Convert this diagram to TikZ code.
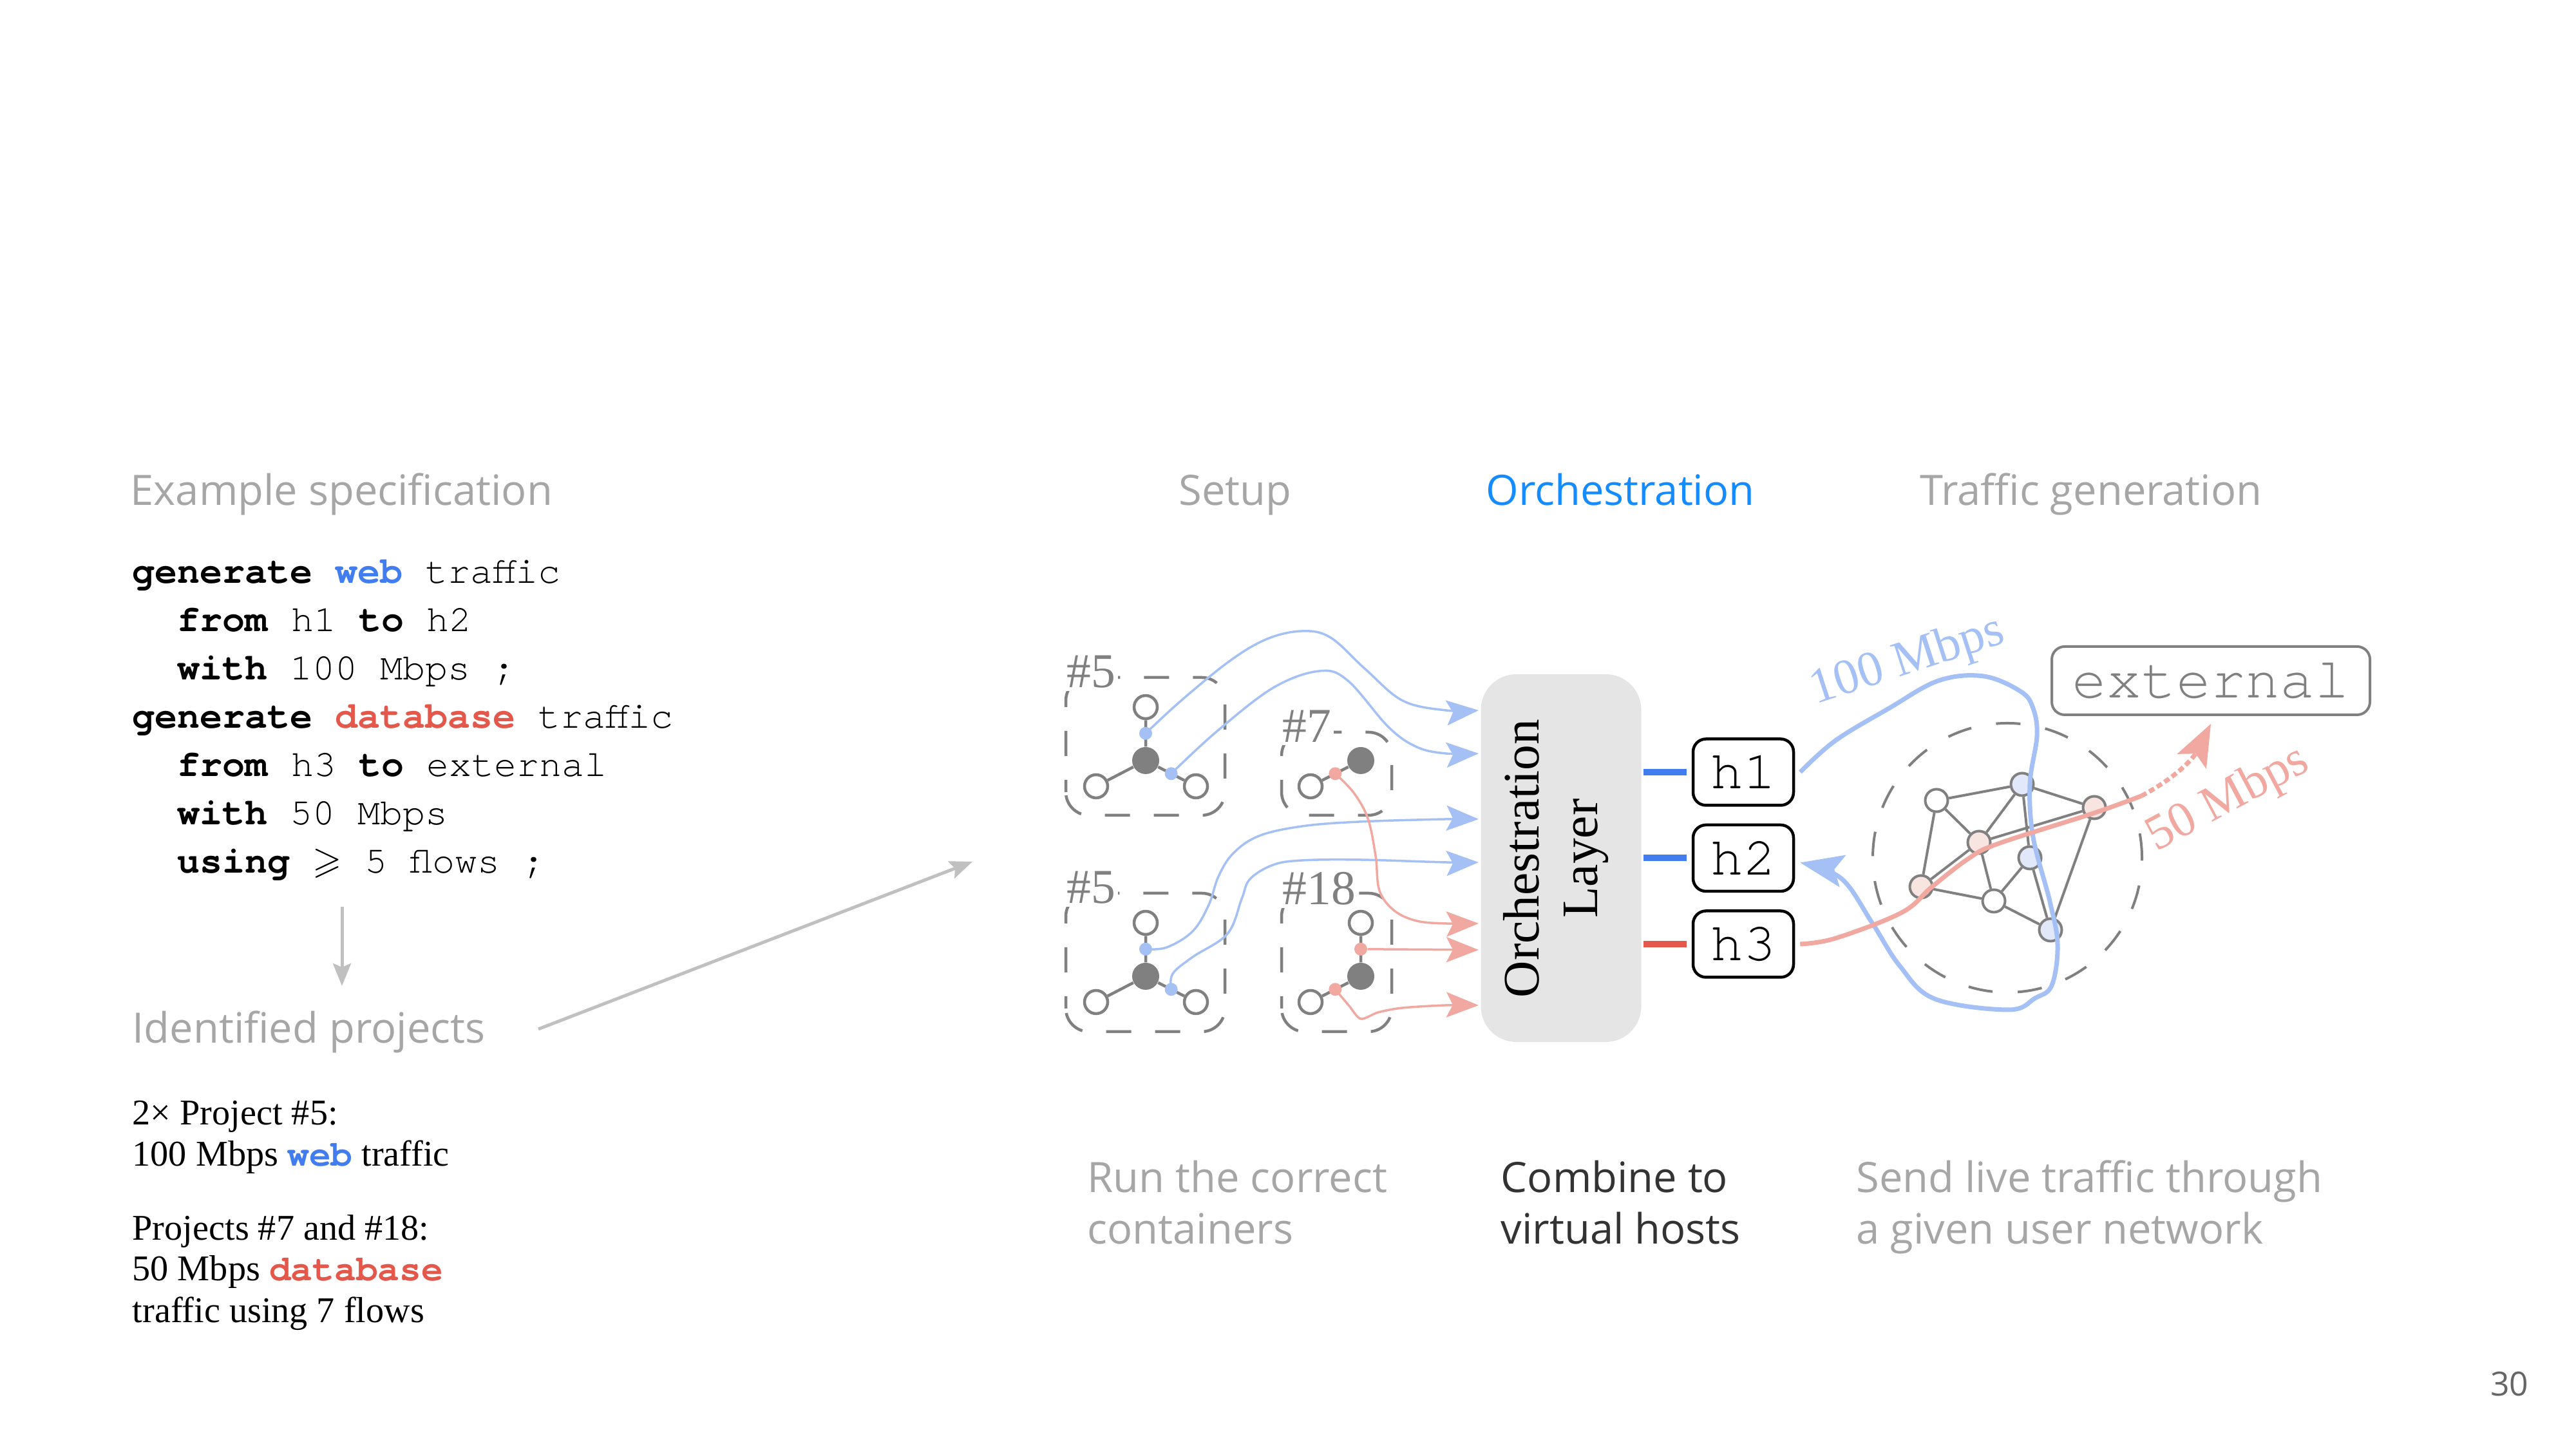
\documentclass[tikz,border=0pt]{standalone}
\usepackage{fontspec}
\usepackage{amssymb}
\setmainfont{Liberation Serif}
\setmonofont{texgyrecursor}[Extension=.otf, UprightFont=*-regular, BoldFont=*-bold]
\newfontfamily\slidefont{Open Sans}
\usetikzlibrary{arrows.meta,positioning}

\definecolor{headgray}{RGB}{166,166,166}
\definecolor{pagegray}{RGB}{102,102,102}
\definecolor{orchblue}{RGB}{20,140,255}
\definecolor{webblue}{RGB}{66,125,240}
\definecolor{dbred}{RGB}{228,87,75}
\definecolor{flowblue}{RGB}{164,192,245}
\definecolor{flowred}{RGB}{240,168,160}
\definecolor{nodegray}{RGB}{128,128,128}
\definecolor{orchgray}{RGB}{229,229,229}
\definecolor{netblue}{RGB}{225,232,250}
\definecolor{netpink}{RGB}{248,228,225}
\definecolor{arrowgray}{RGB}{192,192,192}
\definecolor{captiondark}{RGB}{51,51,51}

\tikzset{
  slidehead/.style={font=\slidefont\fontsize{18.5}{22}\selectfont, text=headgray, inner sep=0, anchor=base west},
  stepcaption/.style={font=\slidefont\fontsize{18.5}{22}\selectfont, text=headgray, inner sep=0, anchor=base west},
  specline/.style={font=\ttfamily\fontsize{16.6}{20}\selectfont, inner sep=0, anchor=base west},
  projtext/.style={font=\fontsize{16}{18}\selectfont, inner sep=0, anchor=base west},
  projbox/.style={draw=nodegray, line width=0.45mm, dash pattern=on 3.9mm off 3.7mm, dash phase=2mm, rounded corners=3.6mm},
  projtag/.style={font=\fontsize{21.5}{24}\selectfont, text=nodegray, fill=white, inner sep=0.4mm, anchor=base west},
  hub/.style={circle, fill=nodegray, minimum size=4.2mm, inner sep=0},
  leaf/.style={circle, draw=nodegray, line width=0.45mm, fill=white, minimum size=3.6mm, inner sep=0},
  spoke/.style={draw=nodegray, line width=0.45mm},
  webport/.style={circle, fill=flowblue, minimum size=2mm, inner sep=0},
  dbport/.style={circle, fill=flowred, minimum size=2mm, inner sep=0},
  webflow/.style={draw=flowblue, line width=0.35mm, -{Stealth[length=5mm, width=3.9mm, inset=1mm]}},
  dbflow/.style={draw=flowred, line width=0.35mm, -{Stealth[length=5mm, width=3.9mm, inset=1mm]}},
  orchbox/.style={fill=orchgray, rounded corners=5.5mm, minimum width=2.49cm, minimum height=5.71cm, inner sep=0},
  orchtext/.style={font=\fontsize{22.6}{26}\selectfont, rotate=90, align=center, inner sep=0},
  host/.style={draw=black, line width=0.45mm, rounded corners=2mm, minimum width=1.56cm, minimum height=1.03cm, inner sep=0, font=\ttfamily\fontsize{24}{24}\selectfont},
  hostline/.style={line width=1mm},
  extbox/.style={draw=nodegray, line width=0.4mm, rounded corners=2mm, minimum width=4.94cm, minimum height=1.06cm, inner sep=0, text=nodegray, font=\ttfamily\fontsize{25.5}{26}\selectfont},
  netnode/.style={circle, draw=nodegray, line width=0.4mm, fill=white, minimum size=3.5mm, inner sep=0},
  netedge/.style={draw=nodegray, line width=0.4mm},
  netrim/.style={draw=nodegray, line width=0.4mm, dash pattern=on 3.8mm off 3.9mm},
  bigwebflow/.style={draw=flowblue, line width=0.7mm, -{Stealth[length=6.7mm, width=5mm, inset=1.3mm]}},
  bigdbflow/.style={draw=flowred, line width=0.7mm},
  ratetag/.style={font=\fontsize{22}{24}\selectfont, inner sep=0},
  greyarrow/.style={draw=arrowgray, line width=0.5mm, -{Stealth[length=3.5mm, width=2.8mm, inset=0.6mm]}},
}

\begin{document}
\begin{tikzpicture}
  \useasboundingbox (0,0) rectangle (40,22.5);

  % specification
  \node[slidehead] (spec) at (2.02,14.65) {Example specification};
  \node[specline] (spec1) at (2.05,13.44) {\textbf{generate} \textbf{\color{webblue}web} traffic};
  \node[specline] (spec2) at (2.75,12.69) {\textbf{from} h1 \textbf{to} h2};
  \node[specline] (spec3) at (2.75,11.94) {\textbf{with} 100 Mbps ;};
  \node[specline] (spec4) at (2.05,11.19) {\textbf{generate} \textbf{\color{dbred}database} traffic};
  \node[specline] (spec5) at (2.75,10.44) {\textbf{from} h3 \textbf{to} external};
  \node[specline] (spec6) at (2.75,9.69) {\textbf{with} 50 Mbps};
  \node[specline] (spec7) at (2.75,8.94) {\textbf{using} $\geqslant$ 5 flows ;};

  \coordinate (down1) at (5.31,8.42);
  \coordinate (down2) at (5.31,7.19);
  \draw[greyarrow] (down1) -- (down2);

  % identified projects
  \node[slidehead] (ident) at (2.05,6.30) {Identified projects};
  \node[projtext] (proj1) at (2.05,5.03) {2× Project \#5:};
  \node[projtext] (proj2) at (2.05,4.39) {100 Mbps \texttt{\textbf{\color{webblue}web}} traffic};
  \node[projtext] (proj3) at (2.05,3.24) {Projects \#7 and \#18:};
  \node[projtext] (proj4) at (2.05,2.61) {50 Mbps \texttt{\textbf{\color{dbred}database}}};
  \node[projtext] (proj5) at (2.05,1.96) {traffic using 7 flows};

  \coordinate (diag1) at (8.36,6.52);
  \coordinate (diag2) at (15.10,9.12);
  \draw[greyarrow] (diag1) -- (diag2);

  % step headings
  \node[slidehead, anchor=base] (setup) at (19.18,14.65) {Setup};
  \node[slidehead, anchor=base, text=orchblue] (orchhead) at (25.16,14.65) {Orchestration};
  \node[slidehead, anchor=base] (trafhead) at (32.47,14.65) {Traffic generation};

  % containers
  \draw[projbox] (16.55,9.84) rectangle (19.02,11.98);
  \draw[projbox] (19.90,9.84) rectangle (21.61,11.13);
  \draw[projbox] (16.55,6.48) rectangle (19.02,8.63);
  \draw[projbox] (19.90,6.48) rectangle (21.61,8.63);
  \node[projtag] (tagA) at (16.52,11.82) {\#5};
  \node[projtag] (tagC) at (19.87,10.97) {\#7};
  \node[projtag] (tagB) at (16.52,8.47) {\#5};
  \node[projtag] (tagD) at (19.87,8.45) {\#18};

  % project #5, first copy
  \node[hub] (hubA) at (17.79,10.69) {};
  \node[leaf] (topA) [above=4.1mm of hubA] {};
  \node[leaf] (leftA) at ([shift={(-7.7mm,-4mm)}]hubA) {};
  \node[leaf] (rightA) at ([shift={(7.8mm,-4mm)}]hubA) {};
  \draw[spoke] (hubA) -- (topA) (hubA) -- (leftA) (hubA) -- (rightA);
  \path (hubA) -- (topA) node[webport, midway] (pA1) {};
  \path (hubA) -- (rightA) node[webport, midway] (pA2) {};

  % project #5, second copy
  \node[hub] (hubB) at (17.79,7.34) {};
  \node[leaf] (topB) [above=4.1mm of hubB] {};
  \node[leaf] (leftB) at ([shift={(-7.7mm,-4mm)}]hubB) {};
  \node[leaf] (rightB) at ([shift={(7.8mm,-4mm)}]hubB) {};
  \draw[spoke] (hubB) -- (topB) (hubB) -- (leftB) (hubB) -- (rightB);
  \path (hubB) -- (topB) node[webport, midway] (pB1) {};
  \path (hubB) -- (rightB) node[webport, midway] (pB2) {};

  % project #7
  \node[hub] (hubC) at (21.13,10.69) {};
  \node[leaf] (leftC) at ([shift={(-7.8mm,-4mm)}]hubC) {};
  \draw[spoke] (hubC) -- (leftC);
  \path (hubC) -- (leftC) node[dbport, midway] (pC1) {};

  % project #18
  \node[hub] (hubD) at (21.13,7.34) {};
  \node[leaf] (topD) [above=4.1mm of hubD] {};
  \node[leaf] (leftD) at ([shift={(-7.8mm,-4mm)}]hubD) {};
  \draw[spoke] (hubD) -- (topD) (hubD) -- (leftD);
  \path (hubD) -- (topD) node[dbport, midway] (pD1) {};
  \path (hubD) -- (leftD) node[dbport, midway] (pD2) {};

  % orchestration layer
  \node[orchbox] (orch) at (24.24,9.175) {};
  \node[orchtext] (orchtxt) at (24.16,9.17) {Orchestration\\Layer};

  \coordinate (in1) at (22.96,11.47);
  \coordinate (in2) at (22.96,10.80);
  \coordinate (in3) at (22.96,9.78);
  \coordinate (in4) at (22.96,9.11);
  \coordinate (in5) at (22.96,8.16);
  \coordinate (in6) at (22.96,7.75);
  \coordinate (in7) at (22.96,6.89);

  \draw[webflow] plot[smooth, tension=0.6] coordinates {(pA1) (18.34,11.62) (19.10,12.24) (19.68,12.58) (20.22,12.70) (20.66,12.60) (21.20,12.11) (21.78,11.62) (22.45,11.47) (in1)};
  \draw[webflow] plot[smooth, tension=0.6] coordinates {(pA2) (18.88,11.13) (19.77,11.82) (20.49,12.08) (20.93,11.93) (21.56,11.21) (22.00,10.90) (22.45,10.80) (in2)};
  \draw[webflow] plot[smooth, tension=0.6] coordinates {(pB1) (18.12,7.79) (18.52,8.04) (18.77,8.45) (18.92,8.89) (19.15,9.25) (19.55,9.52) (20.22,9.67) (21.11,9.74) (22.45,9.78) (in3)};
  \draw[webflow] plot[smooth, tension=0.6] coordinates {(pB2) (18.21,7.38) (18.52,7.64) (19.06,8.00) (19.28,8.54) (19.41,8.85) (19.77,9.07) (20.22,9.14) (21.11,9.15) (22.45,9.11) (in4)};
  \draw[dbflow] plot[smooth, tension=0.6] coordinates {(pC1) (21.02,10.19) (21.24,9.79) (21.36,9.21) (21.42,8.67) (21.65,8.36) (22.00,8.20) (22.45,8.16) (in5)};
  \draw[dbflow] (pD1) -- (in6);
  \draw[dbflow] plot[smooth, tension=0.5] coordinates {(pD2) (20.95,6.88) (21.13,6.68) (21.40,6.78) (21.78,6.85) (22.45,6.89) (in7)};

  % virtual hosts
  \node[host] (h1) at (27.07,10.51) {h1};
  \node[host] (h2) [below=2.6mm of h1] {h2};
  \node[host] (h3) [below=2.6mm of h2] {h3};
  \draw[hostline, webblue] ([xshift=0.3mm]orch.east |- h1) -- ([xshift=-0.8mm]h1.west);
  \draw[hostline, webblue] ([xshift=0.3mm]orch.east |- h2) -- ([xshift=-0.8mm]h2.west);
  \draw[hostline, dbred] ([xshift=0.3mm]orch.east |- h3) -- ([xshift=-0.8mm]h3.west);

  % user network
  \node[extbox] (ext) at (34.33,11.93) {external};
  \draw[netrim] (31.17,9.18) circle (2.09);

  \node[netnode] (n1) at (30.07,10.07) {};
  \node[netnode, fill=netblue] (n2) at (31.40,10.32) {};
  \node[netnode, fill=netpink] (n3) at (32.52,9.96) {};
  \node[netnode, fill=netpink] (n4) at (30.73,9.42) {};
  \node[netnode, fill=netblue] (n5) at (31.52,9.18) {};
  \node[netnode, fill=netpink] (n6) at (29.83,8.73) {};
  \node[netnode] (n7) at (30.96,8.51) {};
  \node[netnode, fill=netblue] (n8) at (31.84,8.06) {};

  \draw[netedge] (n1) -- (n2) (n1) -- (n4) (n1) -- (n6)
                 (n2) -- (n4) (n2) -- (n3) (n2) -- (n5)
                 (n4) -- (n3) (n3) -- (n8) (n4) -- (n6)
                 (n4) -- (n7) (n6) -- (n7) (n7) -- (n5)
                 (n7) -- (n8) (n5) -- (n8);

  % live traffic
  \draw[bigwebflow] plot[smooth, tension=0.6] coordinates {([xshift=0.8mm]h1.east) (28.50,11.00) (29.33,11.50) (30.10,11.93) (30.80,12.00) (31.38,11.76) (31.57,11.50) (31.63,11.07) (31.52,10.33) (31.57,9.50) (31.83,8.50) (31.95,7.83) (31.86,7.20) (31.60,7.00) (31.19,6.82) (30.04,6.99) (29.50,7.50) (29.07,8.17) (28.59,8.86) ([shift={(0.8mm,-0.7mm)}]h2.east)};
  \coordinate (dbdash) at (33.25,10.14);
  \draw[bigdbflow] plot[smooth, tension=0.6] coordinates {([xshift=0.8mm]h3.east) (28.50,7.93) (29.53,8.33) (30.00,8.73) (30.57,9.17) (31.03,9.40) (32.50,9.87) (dbdash)};
  \draw[bigdbflow, dash pattern=on 0.9mm off 0.5mm, -{Stealth[length=6.5mm, width=5mm, inset=1.3mm]}] (dbdash) to[out=28, in=-117] ([yshift=-1.2mm]ext.south);

  \node[ratetag, text=flowblue, rotate=18] (webrate) at (29.62,12.22) {100 Mbps};
  \node[ratetag, text=flowred, rotate=28] (dbrate) at (34.60,10.08) {50 Mbps};

  % step captions
  \node[stepcaption] (cap1a) at (16.88,3.98) {Run the correct};
  \node[stepcaption] (cap1b) at (16.88,3.18) {containers};
  \node[stepcaption, text=captiondark] (cap2a) at (23.30,3.98) {Combine to};
  \node[stepcaption, text=captiondark] (cap2b) at (23.30,3.18) {virtual hosts};
  \node[stepcaption] (cap3a) at (28.82,3.98) {Send live traffic through};
  \node[stepcaption] (cap3b) at (28.82,3.18) {a given user network};

  \node[font=\slidefont\fontsize{14.7}{16}\selectfont, text=pagegray, anchor=base east, inner sep=0] (pagenum) at (39.27,0.82) {30};
\end{tikzpicture}
\end{document}
